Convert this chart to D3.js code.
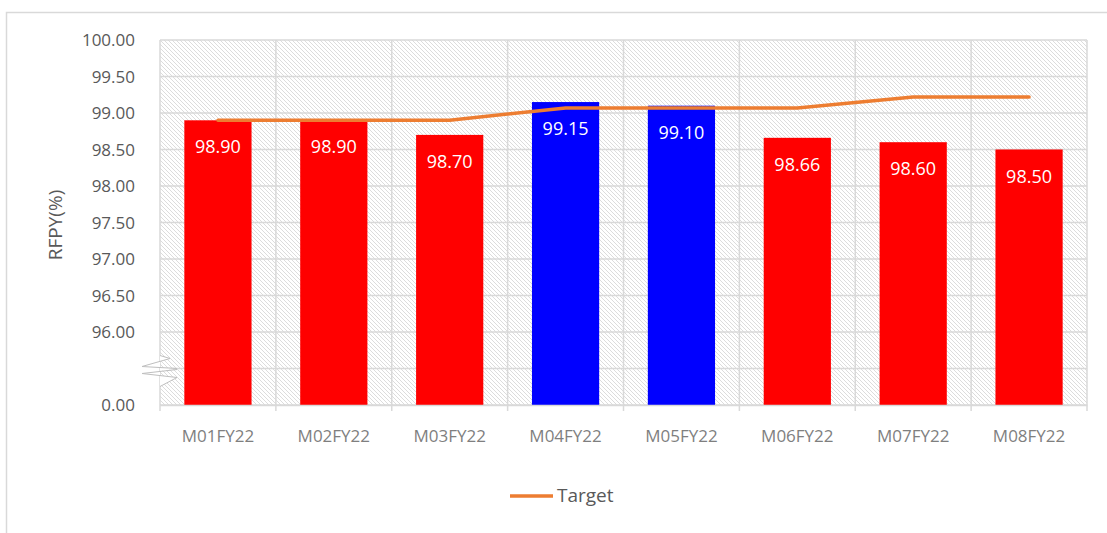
<!DOCTYPE html>
<meta charset="utf-8">
<style>
  body { margin: 0; background: #fff; }
  text { font-family: "Open Sans", sans-serif; }
</style>
<body>
<script src="https://d3js.org/d3.v7.min.js"></script>
<div id="chart"></div>
<script>

// data
const months = ["M01FY22", "M02FY22", "M03FY22", "M04FY22", "M05FY22", "M06FY22", "M07FY22", "M08FY22"];
const rfpy = [98.90, 98.90, 98.70, 99.15, 99.10, 98.66, 98.60, 98.50];
const target = [98.90, 98.90, 98.90, 99.07, 99.07, 99.07, 99.22, 99.22];
// y ticks: the bottom of the axis is broken, 95 stands for 0.00
const yTicks = [95, 95.5, 96, 96.5, 97, 97.5, 98, 98.5, 99, 99.5, 100];
const yTickLabel = v => v === 95 ? "0.00" : (v === 95.5 ? "" : v.toFixed(2));

const W = 1107, H = 533;
const margin = {top: 40, right: 20, bottom: 128, left: 160};
const width = 1087 - margin.left, height = 405 - margin.top;

const svg = d3.select("#chart").append("svg")
  .attr("width", W).attr("height", H);

// hatch pattern for the plot area
const defs = svg.append("defs");
const pat = defs.append("pattern")
  .attr("id", "hatch")
  .attr("patternUnits", "userSpaceOnUse")
  .attr("width", 4).attr("height", 4);
pat.append("rect").attr("width", 4).attr("height", 4).attr("fill", "#fff");
pat.append("path")
  .attr("d", "M-1,-1 L5,5 M-1,3 L1,5 M3,-1 L5,1")
  .attr("stroke", "#dcdcdc").attr("stroke-width", 1);

// outer chart border (only top & left visible)
svg.append("path")
  .attr("d", `M6.5,${H} V12.5 H${W}`)
  .attr("fill", "none").attr("stroke", "#d9d9d9").attr("stroke-width", 1.5);

const g = svg.append("g").attr("transform", `translate(${margin.left},${margin.top})`);

const x = d3.scaleBand().domain(months).range([0, width]).paddingInner(0.42).paddingOuter(0.21);
const y = d3.scaleLinear().domain([95, 100]).range([height, 0]);

g.append("rect").attr("width", width).attr("height", height).attr("fill", "url(#hatch)");

// horizontal grid
g.selectAll(".hgrid").data(yTicks).join("line")
  .attr("x1", 0).attr("x2", width)
  .attr("y1", d => y(d)).attr("y2", d => y(d))
  .attr("stroke", "#d9d9d9").attr("stroke-width", 1.5);

// vertical grid at category boundaries
const bounds = d3.range(months.length + 1).map(i => i * width / months.length);
g.selectAll(".vgrid").data(bounds).join("line")
  .attr("x1", d => d).attr("x2", d => d)
  .attr("y1", 0).attr("y2", height + 6)
  .attr("stroke", "#d9d9d9").attr("stroke-width", 1.5);

// bars: blue when above target
g.selectAll(".bar").data(months).join("rect")
  .attr("x", d => x(d))
  .attr("width", x.bandwidth())
  .attr("y", (d, i) => y(rfpy[i]))
  .attr("height", (d, i) => height - y(rfpy[i]))
  .attr("fill", (d, i) => rfpy[i] > target[i] ? "#0000ff" : "#ff0000");

// value labels
g.selectAll(".lbl").data(months).join("text")
  .attr("x", d => x(d) + x.bandwidth() / 2)
  .attr("y", (d, i) => y(rfpy[i]) + 33)
  .attr("text-anchor", "middle")
  .attr("fill", "#fff")
  .attr("font-size", 18)
  .text((d, i) => rfpy[i].toFixed(2));

// target line
const line = d3.line()
  .x((d, i) => x(months[i]) + x.bandwidth() / 2)
  .y(d => y(d));
g.append("path").datum(target)
  .attr("d", line)
  .attr("fill", "none")
  .attr("stroke", "#ed7d31")
  .attr("stroke-width", 3.5)
  .attr("stroke-linecap", "round");

// y tick labels
g.selectAll(".ytick").data(yTicks).join("text")
  .attr("x", -25)
  .attr("y", d => y(d) + 6)
  .attr("text-anchor", "end")
  .attr("fill", "#595959")
  .attr("font-size", 17)
  .text(yTickLabel);

// x axis
const xAxis = g.append("g").attr("transform", `translate(0,${height})`)
  .call(d3.axisBottom(x).tickSize(0).tickPadding(25));
xAxis.select(".domain").attr("stroke", "#d9d9d9").attr("stroke-width", 1.5);
xAxis.selectAll("text")
  .attr("fill", "#7f7f7f")
  .attr("font-size", 17)
  .attr("font-family", "Open Sans, sans-serif");

// axis break symbol
const by = y(95.5);
g.append("path")
  .attr("d", `M0,${by - 13} L10,${by - 10} L-18,${by - 2} L17,${by} L-18,${by + 5} L17,${by + 9} L0,${by + 18} Z`)
  .attr("fill", "#fff")
  .attr("stroke", "none");
g.append("path")
  .attr("d", `M0,${by - 13} L10,${by - 10} L-18,${by - 2} L17,${by} M17,${by + 1} L-18,${by + 5} L17,${by + 9} L0,${by + 18}`)
  .attr("fill", "none")
  .attr("stroke", "#bfbfbf")
  .attr("stroke-width", 1);

// y axis title
svg.append("text")
  .attr("transform", "translate(62,225) rotate(-90)")
  .attr("text-anchor", "middle")
  .attr("fill", "#595959")
  .attr("font-size", 19)
  .text("RFPY(%)");

// legend
const lg = svg.append("g").attr("transform", "translate(510,496)");
lg.append("line").attr("x1", 0).attr("x2", 43).attr("y1", 0).attr("y2", 0)
  .attr("stroke", "#ed7d31").attr("stroke-width", 3.5);
lg.append("text").attr("x", 47).attr("y", 6)
  .attr("fill", "#595959").attr("font-size", 19)
  .text("Target");

</script>
</body>
